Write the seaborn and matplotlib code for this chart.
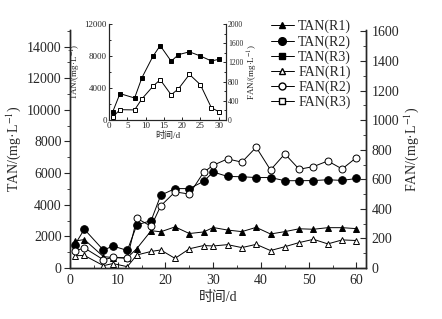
import matplotlib
matplotlib.use("Agg")
import matplotlib.pyplot as plt
import seaborn as sns
import pandas as pd
from matplotlib.lines import Line2D
from matplotlib.ticker import MultipleLocator

sns.set_style("ticks")
plt.rcParams['font.family'] = ['Liberation Serif', 'Noto Sans CJK SC']
plt.rcParams['mathtext.fontset'] = 'stix'

# ---------------- data ----------------
days = [1, 3, 7, 9, 12, 14, 17, 19, 22, 25, 28, 30, 33, 36, 39, 42, 45, 48, 51, 54, 57, 60]
tan_r1 = [1700, 1800, 720, 660, 640, 1230, 2360, 2290, 2600, 2180, 2280, 2560,
          2400, 2300, 2570, 2150, 2300, 2480, 2450, 2550, 2550, 2490]
tan_r2 = [1460, 2450, 1130, 1390, 1110, 2720, 3000, 4600, 5020, 5020, 5480, 6070,
          5790, 5770, 5720, 5720, 5520, 5520, 5530, 5580, 5540, 5660]
fan_r1 = [83, 85, 16, 30, 9, 88, 112, 122, 65, 130, 152, 149,
          158, 138, 160, 118, 144, 172, 194, 163, 190, 186]
fan_r2 = [115, 136, 56, 72, 66, 336, 282, 420, 515, 500, 648, 695,
          738, 716, 817, 663, 772, 668, 686, 724, 670, 747]

ins_days = [1, 3, 7, 9, 12, 14, 17, 19, 22, 25, 28, 30]
tan_r3 = [1000, 3300, 2750, 5280, 7950, 9300, 7350, 8170, 8520, 8000, 7380, 7580]
fan_r3 = [60, 215, 210, 440, 700, 840, 525, 650, 950, 735, 255, 175]

legend_labels = ["TAN(R1)", "TAN(R2)", "TAN(R3)", "FAN(R1)", "FAN(R2)", "FAN(R3)"]
xlabel = "时间/d"
tan_label = "TAN/(mg·L$^{-1}$)"
fan_label = "FAN/(mg·L$^{-1}$)"

# ---------------- figure ----------------
fig = plt.figure(figsize=(4.42, 3.19), dpi=100)
ax = fig.add_axes([70/442, 1-268/319, (366-70)/442, (268-30)/319])
ax2 = ax.twinx()

lw = 0.7
def draw(axis, x, y, marker, filled, ms):
    sns.lineplot(x=x, y=y, ax=axis, color='k', linewidth=lw, marker=marker,
                 markersize=ms, markeredgecolor='k', markeredgewidth=0.7,
                 markerfacecolor=('k' if filled else 'white'), legend=False)

draw(ax, days, tan_r1, '^', True, 5)
draw(ax, days, tan_r2, 'o', True, 5.5)
draw(ax2, days, fan_r1, '^', False, 5)
draw(ax2, days, fan_r2, 'o', False, 5)

ax.set_xlim(0, 62)
ax.set_ylim(0, 15050)
ax2.set_ylim(0, 1610)
ax.set_xticks([0, 10, 20, 30, 40, 50, 60])
ax.xaxis.set_minor_locator(MultipleLocator(5))
ax.set_yticks(range(0, 14001, 2000))
ax.yaxis.set_minor_locator(MultipleLocator(1000))
ax2.set_yticks(range(0, 1601, 200))
ax2.yaxis.set_minor_locator(MultipleLocator(100))

for a in (ax, ax2):
    a.spines['top'].set_visible(False)
    for s in a.spines.values():
        s.set_linewidth(1.0)
ax.tick_params(axis='x', which='both', direction='in', labelsize=10, pad=4)
ax.tick_params(axis='x', which='major', length=4)
ax.tick_params(axis='x', which='minor', length=2.5)
ax.tick_params(axis='y', which='both', direction='out', labelsize=10, pad=2)
ax.tick_params(axis='y', which='major', length=4)
ax.tick_params(axis='y', which='minor', length=2.5)
ax2.tick_params(axis='y', which='both', direction='in', labelsize=10, pad=4)
ax2.tick_params(axis='y', which='major', length=4)
ax2.tick_params(axis='y', which='minor', length=2.5)

ax.set_xlabel(xlabel, fontsize=10, labelpad=3)
ax.set_ylabel(tan_label, fontsize=10, labelpad=3)
ax2.set_ylabel(fan_label, fontsize=10, labelpad=2)

# legend
handles = [
    Line2D([], [], color='k', lw=lw, marker='^', ms=5, mfc='k', mec='k'),
    Line2D([], [], color='k', lw=lw, marker='o', ms=5.5, mfc='k', mec='k'),
    Line2D([], [], color='k', lw=lw, marker='s', ms=4.5, mfc='k', mec='k'),
    Line2D([], [], color='k', lw=lw, marker='^', ms=5, mfc='white', mec='k'),
    Line2D([], [], color='k', lw=lw, marker='o', ms=5, mfc='white', mec='k'),
    Line2D([], [], color='k', lw=lw, marker='s', ms=4.5, mfc='white', mec='k'),
]
fig.legend(handles, legend_labels, loc='upper left', bbox_to_anchor=(271/442, 1-20/319),
           frameon=False, fontsize=10, handlelength=1.65, handletextpad=0.3,
           labelspacing=0.12, borderaxespad=0, borderpad=0)

# ---------------- inset ----------------
ia = fig.add_axes([109/442, 1-120/319, (226-109)/442, (120-24)/319])
ia2 = ia.twinx()
draw(ia, ins_days, tan_r3, 's', True, 3.2)
draw(ia2, ins_days, fan_r3, 's', False, 3.2)
ia.set_xlim(0, 32)
ia.set_ylim(0, 12000)
ia2.set_ylim(0, 2000)
ia.set_xticks([0, 5, 10, 15, 20, 25, 30])
ia.set_yticks([0, 4000, 8000, 12000])
ia.yaxis.set_minor_locator(MultipleLocator(2000))
ia2.set_yticks([0, 400, 800, 1200, 1600, 2000])
ia2.yaxis.set_minor_locator(MultipleLocator(200))
for a in (ia, ia2):
    a.spines['top'].set_visible(False)
    for s in a.spines.values():
        s.set_linewidth(0.8)
ia.tick_params(axis='both', which='both', direction='in', labelsize=6.5, pad=1.5, width=0.7)
ia.tick_params(axis='both', which='major', length=2.5)
ia.tick_params(axis='both', which='minor', length=1.5)
ia2.tick_params(axis='y', which='both', direction='in', labelsize=5.5, pad=1.5, width=0.7)
ia2.tick_params(axis='y', which='major', length=2.5)
ia2.tick_params(axis='y', which='minor', length=1.5)
ia.set_xlabel(xlabel, fontsize=6.5, labelpad=1)
ia.set_ylabel(tan_label, fontsize=6.5, labelpad=1)
ia2.set_ylabel(fan_label, fontsize=6.5, labelpad=2)

fig.savefig("out.png", dpi=100)
